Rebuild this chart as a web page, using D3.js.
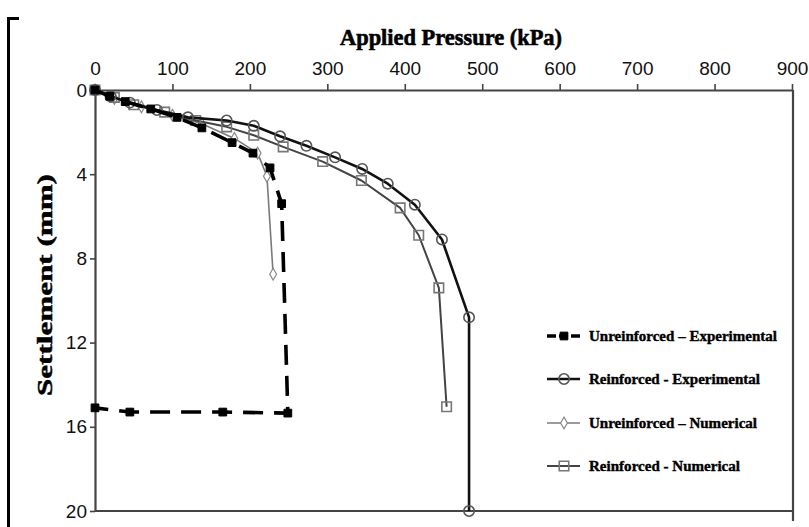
<!DOCTYPE html>
<html>
<head>
<meta charset="utf-8">
<script src="https://cdn.jsdelivr.net/npm/d3@7"></script>
<style>
  html, body { margin: 0; padding: 0; background: #fff; }
  svg { display: block; }
</style>
</head>
<body>
<svg id="chart" width="809" height="527"></svg>
<script>
// Load–settlement curves: applied pressure (kPa) vs. settlement (mm)
const pressureTicks = [0, 100, 200, 300, 400, 500, 600, 700, 800, 900];
const settlementTicks = [0, 4, 8, 12, 16, 20];

// [pressure kPa, settlement mm]
const unreinforcedExperimental = [
  [0, 0], [19, 0.3], [39, 0.55], [72, 0.9], [106, 1.3], [138, 1.8], [177, 2.5],
  [204, 3.0], [226, 3.7], [241, 5.4], [249, 15.35], [165, 15.3], [45, 15.3], [0, 15.1]
];
const reinforcedExperimental = [
  [0, 0], [20, 0.3], [45, 0.6], [80, 0.95], [120, 1.3], [170, 1.45], [205, 1.7],
  [239, 2.2], [273, 2.65], [310, 3.2], [345, 3.75], [378, 4.45], [413, 5.45],
  [448, 7.1], [483, 10.8], [483, 20]
];
const unreinforcedNumerical = [
  [0, 0], [25, 0.4], [60, 0.8], [100, 1.2], [138, 1.6], [180, 2.3], [210, 3.0],
  [222, 4.1], [230, 8.75]
];
const reinforcedNumerical = [
  [0, 0], [25, 0.35], [50, 0.7], [90, 1.05], [130, 1.45], [170, 1.75], [205, 2.15],
  [243, 2.7], [294, 3.4], [344, 4.3], [394, 5.6], [418, 6.9], [444, 9.4], [454, 15.05]
];

const legendLabels = [
  "Unreinforced  \u2013 Experimental",
  "Reinforced - Experimental",
  "Unreinforced  \u2013 Numerical",
  "Reinforced - Numerical"
];

const svg = d3.select("#chart");

const x = d3.scaleLinear().domain([0, 900]).range([95, 792]);
const y = d3.scaleLinear().domain([0, 20]).range([90, 511]);

const axisColor = "#444";
const tickFont = "'Liberation Sans Narrow', 'Arial Narrow', 'Liberation Sans', Arial, sans-serif";
const serifFont = "'Liberation Serif', 'Times New Roman', serif";

// outer figure bracket
svg.append("path")
  .attr("d", "M19,18.5 H8.5 V527")
  .attr("fill", "none").attr("stroke", "#000").attr("stroke-width", 3);

// plot frame
svg.append("line").attr("x1", 95).attr("x2", 793).attr("y1", y(20)).attr("y2", y(20))
  .attr("stroke", axisColor).attr("stroke-width", 2.2);
svg.append("line").attr("x1", 793).attr("x2", 793).attr("y1", y(0)).attr("y2", 521)
  .attr("stroke", axisColor).attr("stroke-width", 2.2);

// top pressure axis
const xAxis = svg.append("g")
  .attr("transform", `translate(0,${y(0)})`)
  .call(d3.axisTop(x).tickValues(pressureTicks).tickSize(6).tickSizeOuter(0).tickPadding(9));
xAxis.select(".domain").attr("stroke", axisColor).attr("stroke-width", 2);
xAxis.selectAll(".tick line").attr("stroke", axisColor).attr("stroke-width", 1.6);
xAxis.selectAll(".tick text").attr("font-family", tickFont).attr("font-size", 19)
  .attr("fill", "#111");

// left settlement axis
const yAxis = svg.append("g")
  .attr("transform", `translate(95,0)`)
  .call(d3.axisLeft(y).tickValues(settlementTicks).tickSize(5).tickSizeOuter(0).tickPadding(3));
yAxis.select(".domain").attr("stroke", axisColor).attr("stroke-width", 2.2);
yAxis.selectAll(".tick line").attr("stroke", axisColor).attr("stroke-width", 1.6);
yAxis.selectAll(".tick text").attr("font-family", tickFont).attr("font-size", 19)
  .attr("fill", "#111");

// axis titles
svg.append("text")
  .attr("x", 451).attr("y", 45)
  .attr("text-anchor", "middle")
  .attr("font-family", serifFont).attr("font-weight", "bold").attr("font-size", 23)
  .attr("stroke", "#000").attr("stroke-width", 0.6)
  .attr("textLength", 222).attr("lengthAdjust", "spacingAndGlyphs")
  .text("Applied Pressure (kPa)");

svg.append("text")
  .attr("transform", "translate(52,285) rotate(-90)")
  .attr("text-anchor", "middle")
  .attr("font-family", serifFont).attr("font-weight", "bold").attr("font-size", 22)
  .attr("stroke", "#000").attr("stroke-width", 0.5)
  .attr("textLength", 222).attr("lengthAdjust", "spacingAndGlyphs")
  .text("Settlement (mm)");

const line = d3.line().x(d => x(d[0])).y(d => y(d[1]));

const series = [
  { data: unreinforcedNumerical, stroke: "#7a7a7a", width: 1.6, dash: null,
    symbol: d3.symbolDiamond, size: 40, fill: "#fff", mstroke: "#888", mwidth: 1.2 },
  { data: reinforcedNumerical, stroke: "#444", width: 2, dash: null,
    symbol: d3.symbolSquare, size: 90, fill: "none", mstroke: "#777", mwidth: 1.6 },
  { data: reinforcedExperimental, stroke: "#111", width: 2.6, dash: null,
    symbol: d3.symbolCircle, size: 85, fill: "none", mstroke: "#555", mwidth: 1.6 },
  { data: unreinforcedExperimental, stroke: "#000", width: 3.6, dash: "20,11",
    symbol: d3.symbolSquare, size: 60, fill: "#000", mstroke: "#000", mwidth: 1 }
];

series.forEach(s => {
  svg.append("path")
    .datum(s.data)
    .attr("d", line)
    .attr("fill", "none")
    .attr("stroke", s.stroke)
    .attr("stroke-width", s.width)
    .attr("stroke-dasharray", s.dash)
    .attr("stroke-linejoin", "round");
  svg.append("g").selectAll("path")
    .data(s.data)
    .join("path")
    .attr("transform", d => `translate(${x(d[0])},${y(d[1])})`)
    .attr("d", d3.symbol().type(s.symbol).size(s.size))
    .attr("fill", s.fill)
    .attr("stroke", s.mstroke)
    .attr("stroke-width", s.mwidth);
});

// legend
const legendOrder = [series[3], series[2], series[0], series[1]];
const legendY = [336, 379, 423, 466];
const legendLen = [188, 171, 168, 151];
legendOrder.forEach((s, i) => {
  const g = svg.append("g").attr("transform", `translate(0,${legendY[i]})`);
  g.append("line")
    .attr("x1", 547).attr("x2", 580).attr("y1", 0).attr("y2", 0)
    .attr("stroke", s.stroke).attr("stroke-width", s.width)
    .attr("stroke-dasharray", s.dash ? "9,3" : null);
  g.append("path")
    .attr("transform", "translate(564,0)")
    .attr("d", d3.symbol().type(s.symbol).size(s.size))
    .attr("fill", s.fill).attr("stroke", s.mstroke).attr("stroke-width", s.mwidth);
  g.append("text")
    .attr("x", 589).attr("y", 5)
    .attr("font-family", serifFont).attr("font-weight", "bold").attr("font-size", 15)
    .attr("stroke", "#000").attr("stroke-width", 0.4)
    .attr("textLength", legendLen[i]).attr("lengthAdjust", "spacingAndGlyphs")
    .text(legendLabels[i]);
});
</script>
</body>
</html>
